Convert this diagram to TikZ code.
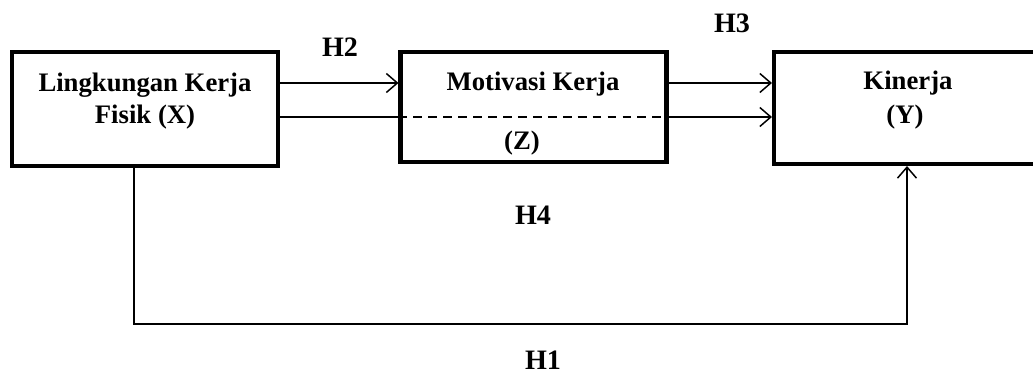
\documentclass[tikz,border=0pt]{standalone}
\usepackage{fontspec}
\setmainfont{Liberation Serif}
\usetikzlibrary{arrows.meta,positioning,calc}

\tikzset{
    varbox/.style={draw, line width=2.3pt, minimum width=5.32cm, inner sep=0pt},
    hyp/.style={font=\fontsize{16}{19}\selectfont\bfseries},
    boxtext/.style={font=\fontsize{15.2}{18}\selectfont\bfseries, inner sep=0pt},
    link/.style={line width=0.85pt, -{Straight Barb[length=0.22cm, width=0.38cm, line width=0.85pt]}}
}

\begin{document}
\begin{tikzpicture}
    \useasboundingbox (0, 0) rectangle (20.66, 7.66);

    % Variabel
    \node[varbox, minimum height=2.28cm] (lkf) at (2.90, 5.48) {};
    \node[varbox, minimum height=2.20cm] (mot) at (10.67, 5.52) {};
    \node[varbox, minimum height=2.24cm, minimum width=7cm] (kin) at (18.98, 5.50) {};

    \node[boxtext] (lkf1) at (2.90, 5.96) {Lingkungan Kerja};
    \node[boxtext] (lkf2) at (2.90, 5.32) {Fisik (X)};
    \node[boxtext] (mot1) at (10.66, 5.98) {Motivasi Kerja};
    \node[boxtext] (mot2) at (10.44, 4.80) {(Z)};
    \node[boxtext] (kin1) at (18.16, 6.00) {Kinerja};
    \node[boxtext] (kin2) at (18.10, 5.32) {(Y)};

    % Hipotesis
    \node[hyp] (h2) at (6.80, 6.72) {H2};
    \node[hyp] (h3) at (14.64, 7.20) {H3};
    \node[hyp] (h4) at (10.66, 3.36) {H4};
    \node[hyp] (h1) at (10.86, 0.46) {H1};

    % Jalur
    \draw[link] ([yshift=0.52cm]lkf.east) -- ([yshift=0.52cm]lkf.east -| mot.west);
    \draw[link] ([yshift=0.48cm]mot.east) -- ([yshift=0.48cm]mot.east -| kin.west);
    \draw[line width=0.85pt] ([yshift=-0.16cm]lkf.east) -- ([yshift=-0.16cm]lkf.east -| mot.west);
    \draw[line width=0.85pt, dash pattern=on 5pt off 3.5pt] ([yshift=-0.16cm]lkf.east -| mot.west) -- ([yshift=-0.16cm]lkf.east -| mot.east);
    \draw[link] ([yshift=-0.16cm]lkf.east -| mot.east) -- ([yshift=-0.16cm]lkf.east -| kin.west);
    \draw[link] ([xshift=-0.22cm]lkf.south) -- ++(0, -3.12) -| ([xshift=-0.84cm]kin.south);
\end{tikzpicture}
\end{document}
